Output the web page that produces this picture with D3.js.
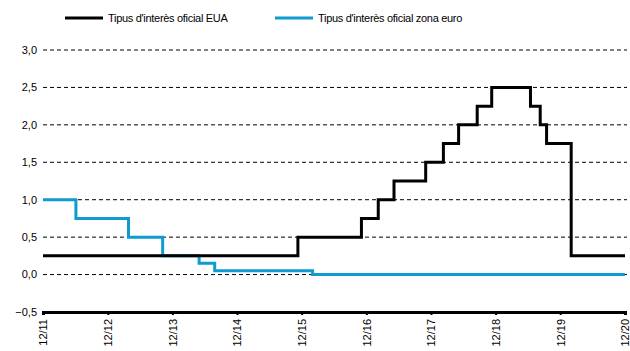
<!DOCTYPE html>
<html>
<head>
<meta charset="utf-8">
<script src="https://cdn.jsdelivr.net/npm/d3@7"></script>
<style>
  body { margin: 0; background: #fff; }
  svg text { font-family: "Liberation Sans", Arial, sans-serif; fill: #000; }
</style>
</head>
<body>
<svg id="chart" width="630" height="351"></svg>
<script>
// Policy rate step series: each entry is the date a new level starts (%).
const usDates  = ["2011-12-01","2015-11-10","2016-11-03","2017-02-06","2017-05-06","2017-11-01",
                  "2018-02-09","2018-05-06","2018-08-19","2018-11-09","2019-06-16","2019-08-10",
                  "2019-09-15","2020-02-01"];
const usRates  = [0.25, 0.5, 0.75, 1.0, 1.25, 1.5, 1.75, 2.0, 2.25, 2.5, 2.25, 2.0, 1.75, 0.25];

const euDates  = ["2011-12-01","2012-06-04","2013-03-28","2013-10-07","2014-05-01","2014-07-28","2016-02-01"];
const euRates  = [1.0, 0.75, 0.5, 0.25, 0.15, 0.05, 0.0];

const endDate  = "2020-12-01";

const yTicks   = [-0.5, 0, 0.5, 1.0, 1.5, 2.0, 2.5, 3.0];
const xTickLabels = ["12/11","12/12","12/13","12/14","12/15","12/16","12/17","12/18","12/19","12/20"];
const xTickDates  = ["2011-12-01","2012-12-01","2013-12-01","2014-12-01","2015-12-01",
                     "2016-12-01","2017-12-01","2018-12-01","2019-12-01","2020-12-01"];

const seriesNames = ["Tipus d'interès oficial EUA", "Tipus d'interès oficial zona euro"];
const seriesColors = ["#000000", "#0f9bd0"];

const parse = d3.timeParse("%Y-%m-%d");
const svg = d3.select("#chart");

const x = d3.scaleTime()
  .domain([parse("2011-12-01"), parse(endDate)])
  .range([43, 625]);
const y = d3.scaleLinear()
  .domain([-0.5, 3.0])
  .range([312, 50]);

// Dashed horizontal gridlines
svg.append("g")
  .selectAll("line")
  .data(yTicks)
  .join("line")
  .attr("x1", x.range()[0]).attr("x2", x.range()[1] + 2)
  .attr("y1", d => y(d)).attr("y2", d => y(d))
  .attr("stroke", "#000")
  .attr("stroke-width", 1)
  .attr("stroke-dasharray", "4,3");

// Y labels (comma decimal separator)
const fmt = d => d3.format(".1f")(d).replace(".", ",");
svg.append("g")
  .selectAll("text")
  .data(yTicks)
  .join("text")
  .attr("x", 37)
  .attr("y", d => y(d))
  .attr("dy", "0.35em")
  .attr("text-anchor", "end")
  .attr("font-size", 11)
  .text(fmt);

// Step line builder
function stepData(dates, rates) {
  const pts = dates.map((d, i) => ({ date: parse(d), v: rates[i] }));
  pts.push({ date: parse(endDate), v: rates[rates.length - 1] });
  return pts;
}
const line = d3.line()
  .x(d => x(d.date))
  .y(d => y(d.v))
  .curve(d3.curveStepAfter);

svg.append("path")
  .datum(stepData(euDates, euRates))
  .attr("fill", "none")
  .attr("stroke", seriesColors[1])
  .attr("stroke-width", 3)
  .attr("d", line);

svg.append("path")
  .datum(stepData(usDates, usRates))
  .attr("fill", "none")
  .attr("stroke", seriesColors[0])
  .attr("stroke-width", 3)
  .attr("d", line);

// Bottom axis
const xAxis = d3.axisBottom(x)
  .tickValues(xTickDates.map(parse))
  .tickSize(3)
  .tickFormat((d, i) => xTickLabels[i]);
const gx = svg.append("g")
  .attr("transform", `translate(0,${y(-0.5)})`)
  .call(xAxis);
gx.select(".domain").attr("stroke", "#000").attr("stroke-width", 3);
gx.selectAll(".tick line").attr("stroke", "#000").attr("stroke-width", 2);
gx.selectAll(".tick text")
  .attr("font-size", 11)
  .attr("font-family", "Liberation Sans, Arial, sans-serif")
  .attr("transform", "rotate(-90)")
  .attr("text-anchor", "end")
  .attr("x", -7)
  .attr("y", 0)
  .attr("dy", "0.35em");

// Legend
const legendX = [65, 275];
const leg = svg.append("g");
seriesNames.forEach((name, i) => {
  leg.append("line")
    .attr("x1", legendX[i]).attr("x2", legendX[i] + 38)
    .attr("y1", 18).attr("y2", 18)
    .attr("stroke", seriesColors[i])
    .attr("stroke-width", 3);
  leg.append("text")
    .attr("x", legendX[i] + 43)
    .attr("y", 18)
    .attr("dy", "0.35em")
    .attr("font-size", 11)
    .attr("letter-spacing", "-0.3")
    .text(name);
});
</script>
</body>
</html>
